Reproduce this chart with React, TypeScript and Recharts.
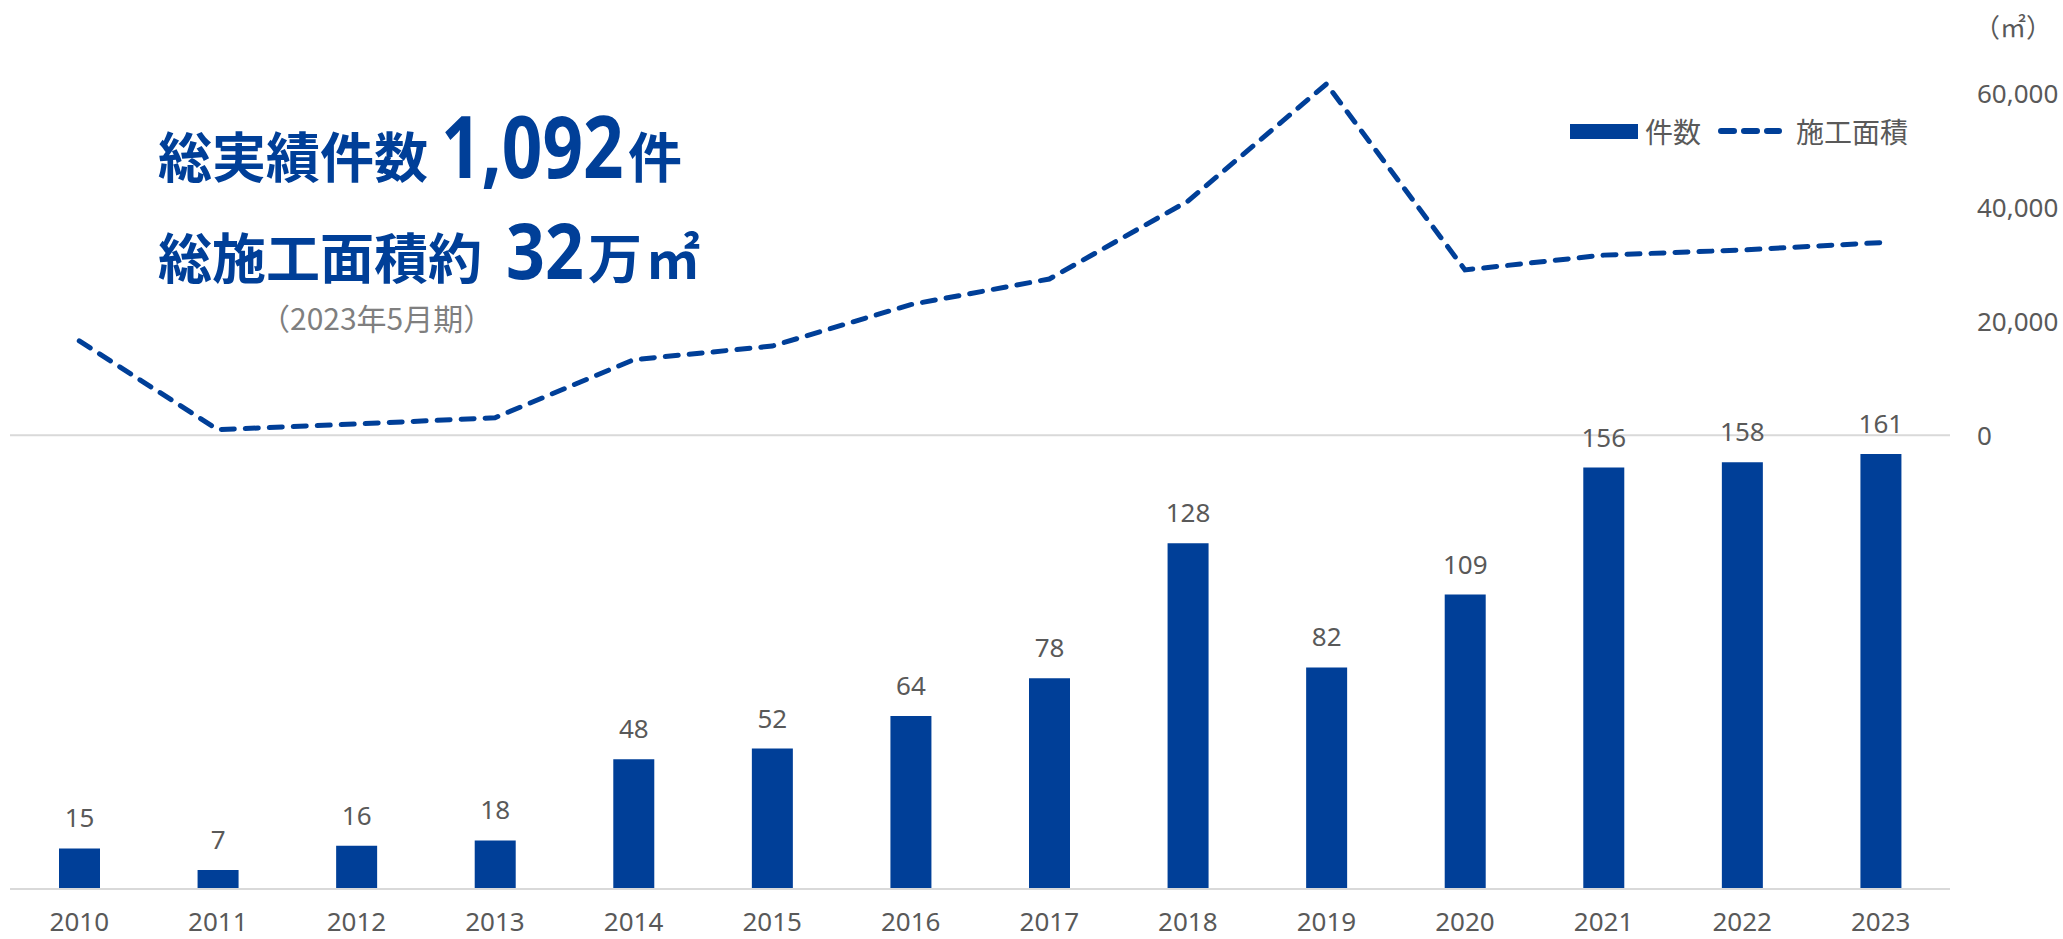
import {
  ComposedChart,
  Bar,
  Line,
  XAxis,
  YAxis,
  LabelList,
  ReferenceLine,
} from "recharts";

const years = [
  "2010", "2011", "2012", "2013", "2014", "2015", "2016",
  "2017", "2018", "2019", "2020", "2021", "2022", "2023",
];
const projectCounts = [15, 7, 16, 18, 48, 52, 64, 78, 128, 82, 109, 156, 158, 161];
const floorAreas = [
  16600, 1000, 2000, 3100, 13300, 15700, 23000,
  27500, 41200, 61800, 29100, 31700, 32600, 33900,
];
const areaTicks = [0, 20000, 40000, 60000];

const data = years.map((year, i) => ({
  year,
  count: projectCounts[i],
  area: floorAreas[i],
}));

const BLUE = "#003f98";
const GRAY = "#595959";
const GRID = "#d9d9d9";
const FONT = "'Noto Sans', 'Noto Sans CJK JP', sans-serif";
const JP = "'Noto Sans CJK JP', sans-serif";

function Headline() {
  return (
    <svg
      width={2063}
      height={939}
      style={{ position: "absolute", left: 0, top: 0, pointerEvents: "none" }}
    >
      <g fill={BLUE} fontWeight={700}>
        <text x={158} y={178} fontSize={54} fontFamily={JP}>総実績件数</text>
        {/* Calibri-like condensed digits: narrow font size, stretched tall */}
        <text transform="translate(441,178) scale(1,1.22)" fontSize={71} fontFamily={FONT}>
          1,092
        </text>
        <text x={628} y={178} fontSize={54} fontFamily={JP}>件</text>
        <text x={158} y={279} fontSize={54} fontFamily={JP}>総施工面積約</text>
        <text transform="translate(506,279) scale(1,1.13)" fontSize={68} fontFamily={FONT}>
          32
        </text>
        <text x={588} y={279} fontSize={54} fontFamily={JP}>万</text>
        <text x={646} y={279} fontSize={54} fontFamily={JP}>㎡</text>
      </g>
      <text x={260} y={330} fontSize={30} fontFamily={JP} fill="#7f7f7f">
        （2023年5月期）
      </text>
      <text x={1974} y={37} fontSize={26} fontFamily={JP} fill={GRAY}>
        （㎡）
      </text>
    </svg>
  );
}

function ChartLegend() {
  return (
    <div
      style={{
        position: "absolute",
        left: 1570,
        top: 112,
        height: 38,
        display: "flex",
        alignItems: "center",
        fontFamily: JP,
        fontSize: 28,
        color: GRAY,
        lineHeight: "38px",
      }}
    >
      <span style={{ width: 68, height: 15, background: BLUE, display: "inline-block" }} />
      <span style={{ marginLeft: 7 }}>件数</span>
      <svg width={64} height={12} style={{ marginLeft: 17 }}>
        <line
          x1={3}
          y1={6}
          x2={61}
          y2={6}
          stroke={BLUE}
          strokeWidth={6}
          strokeDasharray="13 10"
          strokeLinecap="round"
        />
      </svg>
      <span style={{ marginLeft: 14 }}>施工面積</span>
    </div>
  );
}

export default function App() {
  return (
    <div
      style={{
        position: "absolute",
        left: 0,
        top: 0,
        width: 2063,
        height: 939,
        background: "#fff",
      }}
    >
      <ComposedChart
        width={2063}
        height={939}
        data={data}
        margin={{ top: 30, right: 0, bottom: 0, left: 10 }}
      >
        <XAxis
          dataKey="year"
          height={50}
          interval={0}
          axisLine={{ stroke: GRID, strokeWidth: 2 }}
          tickLine={false}
          tickSize={0}
          tickMargin={24}
          tick={{ fill: GRAY, fontSize: 26, fontFamily: FONT }}
        />
        <YAxis yAxisId="count" hide domain={[0, 318]} />
        <YAxis
          yAxisId="area"
          orientation="right"
          width={113}
          domain={[-79800, 71300]}
          ticks={areaTicks}
          axisLine={false}
          tickLine={false}
          tickSize={0}
          tickMargin={27}
          tick={{ fill: GRAY, fontSize: 26, fontFamily: FONT }}
          tickFormatter={(v: number) => v.toLocaleString("en-US")}
        />
        <ReferenceLine yAxisId="area" y={0} stroke={GRID} strokeWidth={2} />
        <Bar
          yAxisId="count"
          dataKey="count"
          name="件数"
          fill={BLUE}
          barSize={41}
          isAnimationActive={false}
        >
          <LabelList
            dataKey="count"
            position="top"
            offset={21}
            fill={GRAY}
            fontSize={26}
            fontFamily={FONT}
          />
        </Bar>
        <Line
          yAxisId="area"
          dataKey="area"
          name="施工面積"
          type="linear"
          stroke={BLUE}
          strokeWidth={5}
          strokeDasharray="13 11"
          strokeLinecap="round"
          dot={false}
          activeDot={false}
          isAnimationActive={false}
        />
      </ComposedChart>
      <Headline />
      <ChartLegend />
    </div>
  );
}
